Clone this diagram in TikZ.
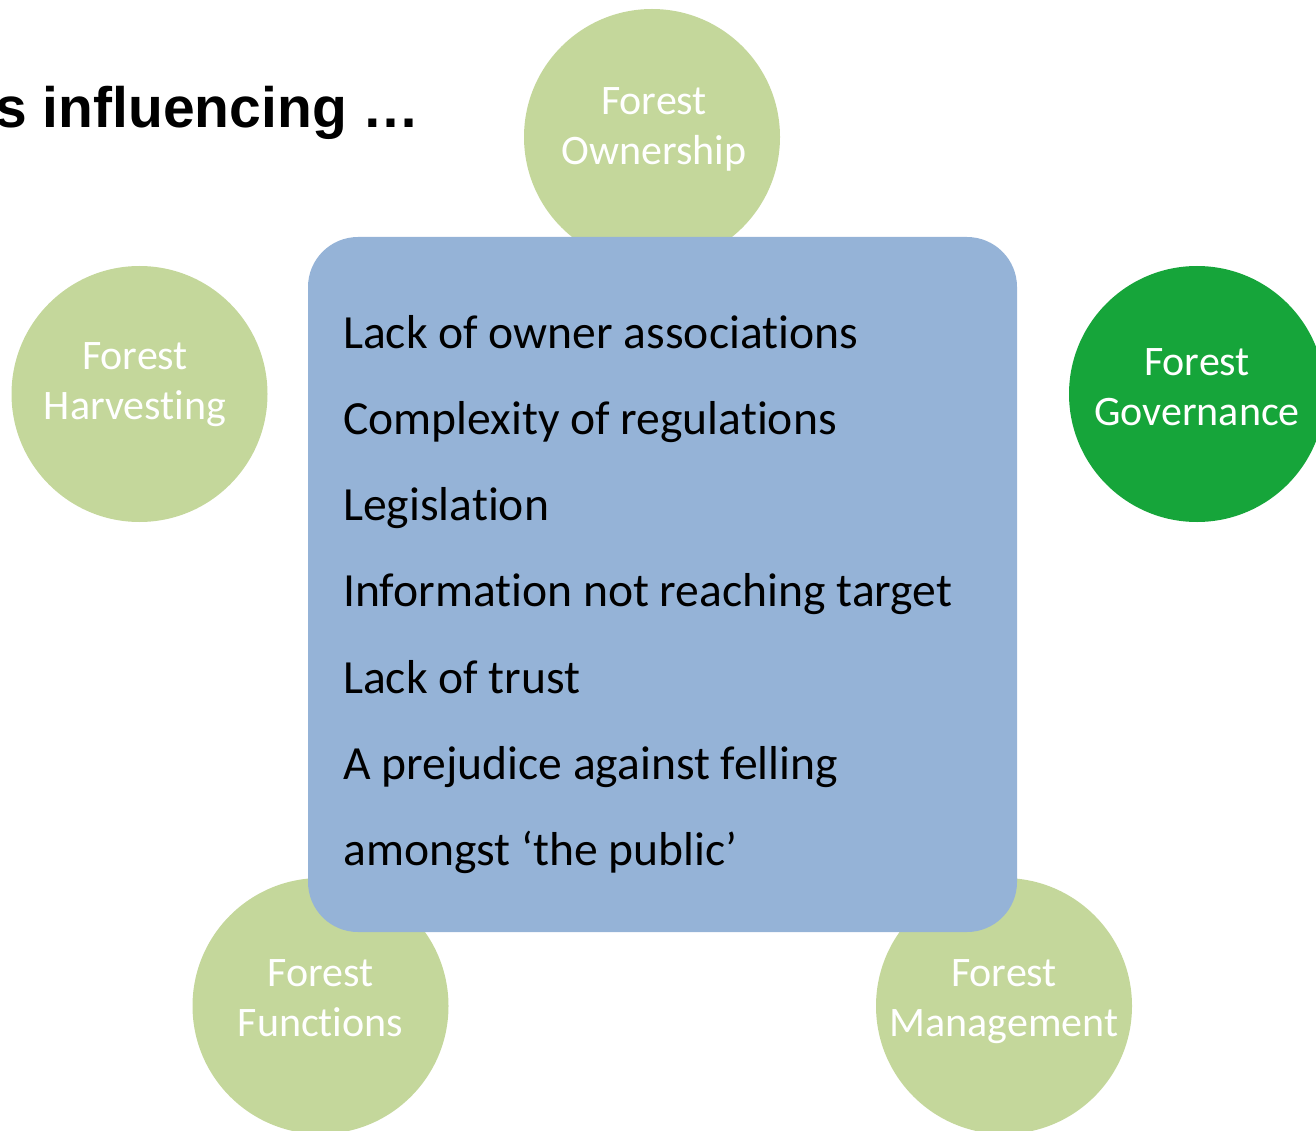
\documentclass[tikz,border=0pt]{standalone}
\usepackage{fontspec}
\setmainfont[Ligatures=NoCommon]{Carlito}
\newfontfamily\headfont{Liberation Sans}
\usepackage{tikz}
\usetikzlibrary{positioning}
\definecolor{leaf}{HTML}{C4D79B}
\definecolor{govgreen}{HTML}{16A53A}
\definecolor{boxblue}{HTML}{95B3D7}
\tikzset{bubble/.style={circle,fill=leaf,minimum size=256pt,inner sep=0pt}}
\tikzset{bubtext/.style={text=white,align=center,inner sep=0pt,font=\fontsize{42}{50}\selectfont}}
\tikzset{item/.style={inner sep=0pt,text height=34pt,text depth=10pt,font=\fontsize{47.6}{56}\selectfont}}
\begin{document}
\begin{tikzpicture}[x=1pt,y=-1pt,node distance=86.3pt,on grid]
        \useasboundingbox (0,0) rectangle (1316,1131);
        \node(title)[anchor=base east,font=\headfont\bfseries\fontsize{57}{68}\selectfont,inner sep=0pt] at (420,128) {s influencing …};
        % the five bubbles
        \node(own)[bubble] at (652,137) {};
        \node(harv)[bubble] at (139.5,394) {};
        \node(gov)[bubble,fill=govgreen] at (1197,394) {};
        \node(func)[bubble] at (320.5,1006) {};
        \node(mgmt)[bubble] at (1004,1006) {};
        \node(ownT)[bubtext] at (654,129) {Forest\\Ownership};
        \node(harvT)[bubtext] at (135,385) {Forest\\Harvesting};
        \node(govT)[bubtext] at (1197,387) {Forest\\Governance};
        \node(funcT)[bubtext] at (320.5,998) {Forest\\Functions};
        \node(mgmtT)[bubtext] at (1004,1002) {Forest\\Management};
        % central box with the barriers
        \node(box)[fill=boxblue,rounded corners=50pt,minimum width=709pt,minimum height=695pt] at (662.5,584.5) {};
        \node(l1)[item,anchor=base west] at (343,348) {Lack of owner associations};
        \node(l2)[item,below=of l1.west,anchor=west]{Complexity of regulations};
        \node(l3)[item,below=of l2.west,anchor=west]{Legislation};
        \node(l4)[item,below=of l3.west,anchor=west]{Information not reaching target};
        \node(l5)[item,below=of l4.west,anchor=west]{Lack of trust};
        \node(l6)[item,below=of l5.west,anchor=west]{A prejudice against felling};
        \node(l7)[item,below=of l6.west,anchor=west]{amongst ‘the public’};
      \end{tikzpicture}
\end{document}
